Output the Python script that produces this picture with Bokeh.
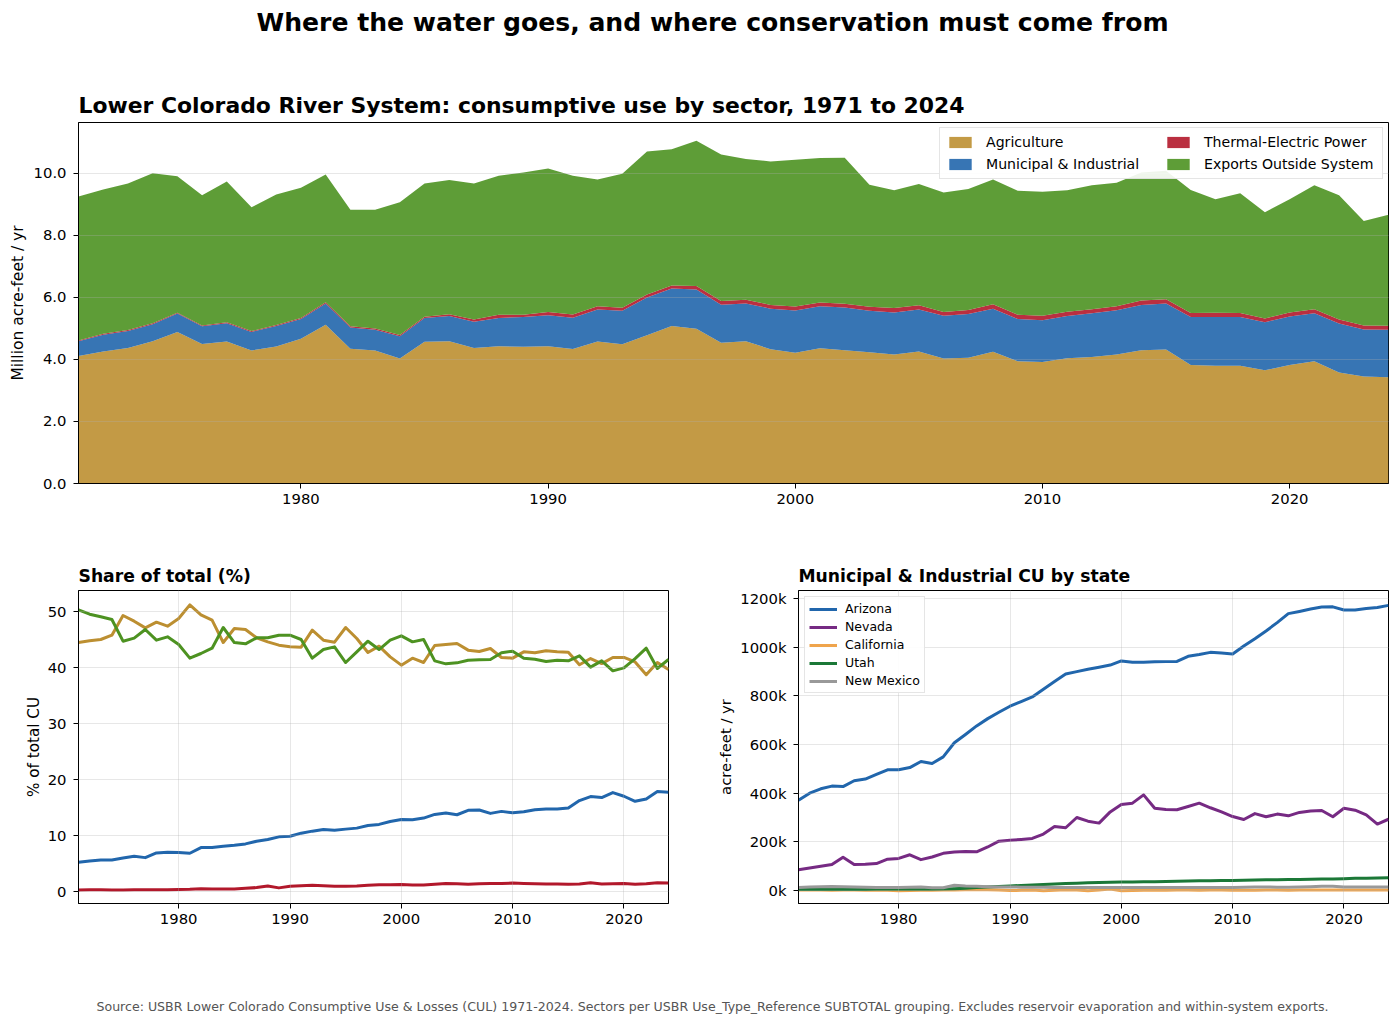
from bokeh.embed import file_html
from bokeh.layouts import column, row
from bokeh.models import (ColumnDataSource, FixedTicker, Label, Legend, LegendItem,
                          NumeralTickFormatter, PrintfTickFormatter, Range1d)
from bokeh.plotting import figure
from bokeh.resources import INLINE

years = list(range(1971, 2025))

agriculture = [4.11,4.26,4.37,4.59,4.89,4.50,4.58,4.29,4.42,4.67,5.12,4.35,4.29,4.03,4.57,4.59,4.37,4.43,
               4.41,4.43,4.34,4.58,4.49,4.78,5.08,4.99,4.54,4.59,4.33,4.22,4.36,4.30,4.23,4.16,4.26,4.03,
               4.06,4.25,3.94,3.92,4.04,4.08,4.16,4.30,4.32,3.82,3.80,3.80,3.65,3.82,3.94,3.58,3.45,3.43]
municipal = [.48,.54,.55,.55,.59,.57,.59,.60,.66,.64,.69,.68,.67,.72,.77,.81,.85,.91,.96,1.00,1.01,1.03,1.08,
             1.22,1.21,1.27,1.23,1.22,1.31,1.36,1.36,1.38,1.34,1.36,1.35,1.38,1.41,1.39,1.37,1.35,1.36,1.41,
             1.43,1.46,1.49,1.55,1.57,1.57,1.55,1.57,1.55,1.58,1.52,1.53]
thermal = [.02,.03,.03,.03,.03,.03,.03,.03,.03,.03,.04,.04,.04,.04,.04,.06,.07,.10,.07,.10,.10,.11,.10,.10,.10,
           .11,.12,.12,.12,.13,.12,.12,.13,.14,.14,.12,.13,.14,.13,.14,.14,.13,.13,.14,.13,.13,.14,.13,.12,.13,
           .13,.13,.13,.13]
exports = [4.65,4.65,4.73,4.84,4.40,4.20,4.54,3.99,4.21,4.20,4.12,3.76,3.83,4.28,4.30,4.33,4.39,4.49,4.59,4.63,
           4.48,4.09,4.32,4.61,4.39,4.69,4.72,4.54,4.63,4.73,4.66,4.71,3.94,3.80,3.91,3.86,3.90,4.03,4.00,4.00,
           3.92,4.00,3.98,4.13,4.15,3.97,3.66,3.86,3.43,3.65,4.00,4.01,3.37,3.58]

share_agriculture = [44.46,44.76,45.0,45.77,49.29,48.27,47.08,48.1,47.38,48.75,51.19,49.4,48.45,44.46,46.96,46.79,
                     45.3,44.58,43.99,43.69,43.63,46.67,44.88,44.52,47.14,45.18,42.68,43.81,41.9,40.42,41.67,40.89,
                     43.93,44.11,44.29,43.1,42.86,43.39,41.79,41.67,42.8,42.62,42.98,42.8,42.74,40.48,41.6,40.7,
                     41.79,41.79,41.0,38.7,40.89,39.64]
share_exports = [50.3,49.52,49.05,48.57,44.7,45.24,46.79,44.88,45.48,44.1,41.67,42.5,43.45,47.14,44.46,44.23,45.3,
                 45.3,45.77,45.77,45.0,41.67,43.21,43.69,40.89,42.8,44.7,43.21,44.88,45.65,44.58,45.0,41.19,40.65,
                 40.83,41.31,41.37,41.43,42.62,42.92,41.67,41.49,41.07,41.31,41.19,42.08,40.06,41.19,39.4,39.94,
                 41.6,43.45,39.82,41.43]
share_municipal = [5.21,5.45,5.63,5.63,5.99,6.29,6.05,6.89,7.0,6.95,6.83,7.84,7.84,8.08,8.26,8.5,8.98,9.28,9.76,9.88,
                   10.42,10.78,11.08,10.96,11.14,11.32,11.8,11.98,12.51,12.87,12.81,13.11,13.77,14.01,13.71,14.49,
                   14.55,13.95,14.31,14.07,14.25,14.61,14.73,14.73,14.91,16.23,16.95,16.77,17.66,17.01,16.11,16.53,
                   17.84,17.72]
share_thermal = [.25,.3,.3,.28,.27,.3,.3,.3,.32,.35,.4,.5,.45,.47,.45,.6,.7,1.0,.65,.95,1.05,1.1,1.05,.95,.95,1.0,1.1,
                 1.2,1.2,1.25,1.15,1.15,1.3,1.45,1.4,1.3,1.4,1.45,1.45,1.5,1.45,1.4,1.35,1.35,1.3,1.35,1.55,1.35,
                 1.4,1.45,1.3,1.4,1.55,1.5]

arizona = [371,400,418,429,427,451,458,477,496,496,505,530,522,549,607,641,676,706,732,757,776,795,827,858,889,899,
           909,917,926,943,937,937,939,940,941,962,969,978,975,971,1004,1034,1066,1100,1137,1146,1156,1164,1165,1152,
           1152,1158,1162,1171]
nevada = [86,93,100,107,137,107,108,111,129,132,147,127,138,153,158,160,159,179,203,207,210,214,232,263,258,300,285,
          277,323,353,359,393,338,333,332,345,359,340,323,304,292,316,303,314,307,321,327,329,303,338,330,311,273,293]
california = [2,2,2,1,2,2,1,1,1,-1,0,1,1,2,2,3,3,3,2,0,1,2,-1,1,3,2,-1,2,6,-1,0,1,1,1,2,2,1,2,2,1,1,1,2,2,1,2,2,2,2,2,2,2,2,2]
utah = [4,4,4,4,4,4,4,5,5,5,5,6,6,7,8,10,13,15,17,19,21,23,25,27,29,30,32,33,34,35,35,36,36,37,38,39,40,40,41,41,42,
        43,44,45,46,46,47,48,48,49,51,51,52,53]
new_mexico = [13,15,16,17,16,15,14,13,13,13,14,15,12,12,22,19,18,16,15,15,14,14,14,13,13,13,13,13,13,13,13,13,13,13,
              13,13,13,13,13,13,14,15,15,14,14,15,16,18,18,15,15,15,15,15]

sector_names = ["Agriculture", "Municipal & Industrial", "Thermal-Electric Power", "Exports Outside System"]
state_names = ["Arizona", "Nevada", "California", "Utah", "New Mexico"]
main_title = "Where the water goes, and where conservation must come from"
source_note = ("Source: USBR Lower Colorado Consumptive Use & Losses (CUL) 1971-2024. Sectors per USBR "
               "Use_Type_Reference SUBTOTAL grouping. Excludes reservoir evaporation and within-system exports.")

FONT = "DejaVu Sans"
AREA = ["#BC8F31", "#2166AC", "#B2182B", "#4D9221"]
LINE = ["#BC8F31", "#2166AC", "#B2182B", "#4D9221"]
STATE = ["#2166AC", "#762A83", "#EFA44C", "#1B7837", "#999999"]


def style(p, title, ylabel, standoff, label_size, xgrid=True):
    p.title.text = title
    p.title.text_font = FONT
    p.title.text_font_style = "bold"
    p.title.text_color = "black"
    p.background_fill_color = "white"
    p.border_fill_color = "white"
    p.outline_line_color = "black"
    p.outline_line_width = 1
    p.xaxis.ticker = FixedTicker(ticks=[1980, 1990, 2000, 2010, 2020])
    p.xaxis.formatter = NumeralTickFormatter(format="0")
    for ax in (p.xaxis[0], p.yaxis[0]):
        ax.axis_line_color = "black"
        ax.major_tick_line_color = "black"
        ax.major_tick_in = 0
        ax.major_tick_out = 5
        ax.minor_tick_line_color = None
        ax.major_label_text_font = FONT
        ax.major_label_text_font_size = "14.8px"
        ax.major_label_text_color = "black"
    p.xaxis.major_label_standoff = 5
    p.yaxis.major_label_standoff = 7
    p.yaxis.axis_label = ylabel
    p.yaxis.axis_label_text_font = FONT
    p.yaxis.axis_label_text_font_style = "normal"
    p.yaxis.axis_label_text_font_size = label_size
    p.yaxis.axis_label_text_color = "black"
    p.yaxis.axis_label_standoff = standoff
    p.grid.level = "overlay"
    p.grid.grid_line_color = "#b0b0b0"
    p.grid.grid_line_alpha = 0.3
    p.grid.grid_line_width = 1
    if not xgrid:
        p.xgrid.grid_line_color = None


def blank(height, text, y, size, bold, color):
    f = figure(width=1391, height=height, toolbar_location=None, output_backend="svg",
               x_range=Range1d(0, 1), y_range=Range1d(0, 1), min_border=0,
               x_axis_type=None, y_axis_type=None)
    f.outline_line_color = None
    f.grid.visible = False
    f.add_layout(Label(x=634, y=y, x_units="screen", y_units="screen", text=text, text_font=FONT,
                       text_font_size=size, text_font_style="bold" if bold else "normal",
                       text_color=color, text_align="center", text_baseline="middle"))
    return f


header = blank(70, main_title, 48, "25.1px", True, "black")

# ---- stacked area
src = ColumnDataSource(dict(year=years, Agriculture=agriculture, Municipal=municipal,
                            Thermal=thermal, Exports=exports))
p1 = figure(width=1391, height=470, toolbar_location=None, output_backend="svg",
            x_range=Range1d(1971, 2024), y_range=Range1d(0, 11.645),
            min_border_left=78, min_border_right=3, min_border_top=52, min_border_bottom=57)
r_area = p1.varea_stack(["Agriculture", "Municipal", "Thermal", "Exports"], x="year", color=AREA,
                        fill_alpha=0.9, source=src)
style(p1, "Lower Colorado River System: consumptive use by sector, 1971 to 2024", "Million acre-feet / yr", 4, "15.5px", xgrid=False)
p1.title.text_font_size = "21.9px"
p1.title.standoff = 9
p1.yaxis.ticker = FixedTicker(ticks=[0, 2, 4, 6, 8, 10])
p1.yaxis.formatter = NumeralTickFormatter(format="0.0")
leg1 = Legend(items=[LegendItem(label=n, renderers=[r]) for n, r in zip(sector_names, r_area)],
              location="top_right", ncols=2, label_text_font=FONT, label_text_font_size="14.1px",
              label_text_color="black",
              background_fill_alpha=0.9, border_line_color="#cccccc", border_line_width=1,
              glyph_width=28, glyph_height=14, label_height=14, label_width=172, spacing=6, padding=6, margin=5,
              label_standoff=12)
p1.add_layout(leg1)

# ---- share lines
p2 = figure(width=698, height=423, toolbar_location=None, output_backend="svg",
            x_range=Range1d(1971, 2024), y_range=Range1d(-2.14, 53.75),
            min_border_left=78, min_border_right=30, min_border_top=50, min_border_bottom=60)
for vals, c in zip((share_agriculture, share_municipal, share_thermal, share_exports), LINE):
    p2.line(years, vals, line_color=c, line_width=3, line_join="round")
style(p2, "Share of total (%)", "% of total CU", 2, "15.2px")
p2.title.text_font_size = "17.2px"
p2.yaxis.ticker = FixedTicker(ticks=[0, 10, 20, 30, 40, 50])
p2.yaxis.formatter = NumeralTickFormatter(format="0")

# ---- states
p3 = figure(width=693, height=423, toolbar_location=None, output_backend="svg",
            x_range=Range1d(1971, 2024), y_range=Range1d(-53, 1232),
            min_border_left=100, min_border_right=3, min_border_top=50, min_border_bottom=60)
items = []
for name, vals, c in zip(state_names, (arizona, nevada, california, utah, new_mexico), STATE):
    r = p3.line(years, vals, line_color=c, line_width=3, line_join="round")
    items.append(LegendItem(label=name, renderers=[r]))
style(p3, "Municipal & Industrial CU by state", "acre-feet / yr", 3, "14.8px")
p3.title.text_font_size = "17.2px"
p3.yaxis.ticker = FixedTicker(ticks=[0, 200, 400, 600, 800, 1000, 1200])
p3.yaxis.formatter = PrintfTickFormatter(format="%dk")
leg3 = Legend(items=items, location="top_left", label_text_font=FONT, label_text_font_size="12.5px",
              label_text_color="black",
              background_fill_alpha=0.9, border_line_color="#cccccc", border_line_width=1,
              glyph_width=28, glyph_height=12, label_height=12, spacing=3, padding=4, margin=6,
              label_standoff=8)
p3.add_layout(leg3)

footer = blank(55, source_note, 12, "12.58px", False, "#555555")

page = column(header, p1, row(p2, p3), footer)
open("out.html", "w").write(file_html(page, INLINE))
